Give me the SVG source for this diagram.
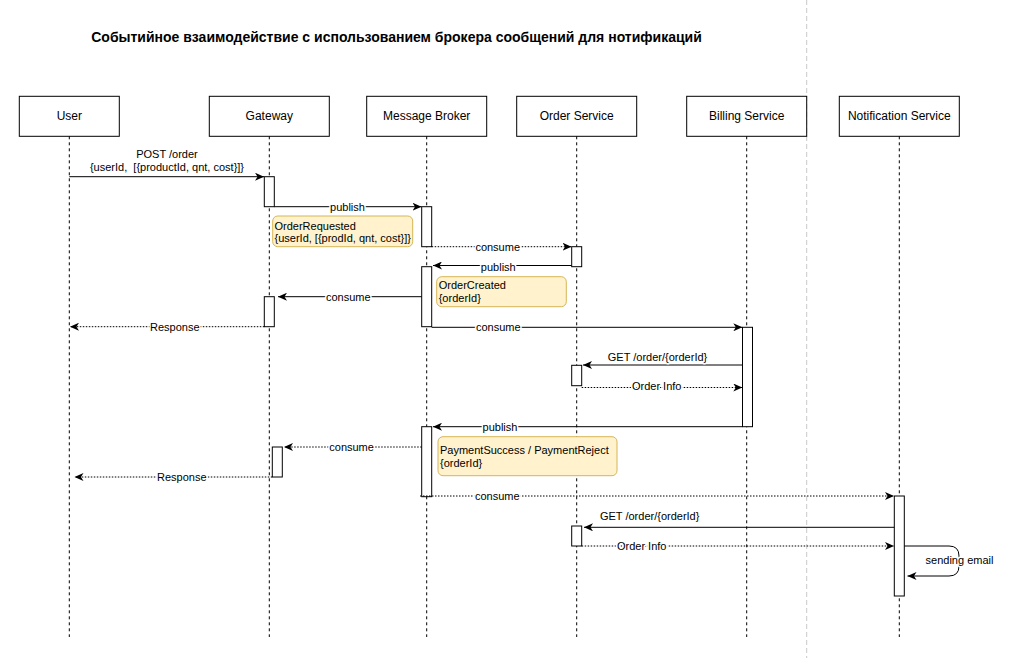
<svg xmlns="http://www.w3.org/2000/svg" width="1010" height="658" viewBox="0 0 1010 658">
<style>
text{font-family:"Liberation Sans",Arial,sans-serif;fill:#000}
.title{font-size:14px;font-weight:bold}
.hdr rect{fill:#fff;stroke:#000;stroke-width:1}
.hdr text{font-size:12px;text-anchor:middle;dominant-baseline:central}
.life{stroke:#000;stroke-width:1;stroke-dasharray:3 3;fill:none}
.act{fill:#fff;stroke:#000;stroke-width:1}
.note rect{fill:#fff2cc;stroke:#d6b656;stroke-width:1}
.note text{font-size:11px;dominant-baseline:central}
.e{stroke:#000;stroke-width:1;fill:none;marker-end:url(#arr)}
.d{stroke-dasharray:1.5 1.5}
.lbl{font-size:11px;text-anchor:middle;dominant-baseline:central;paint-order:stroke;stroke:#fff;stroke-width:3px;stroke-linejoin:round;white-space:pre}
.sep{stroke:#c8c8c8;stroke-width:1;stroke-dasharray:5 3;fill:none}
</style>
<defs>
<marker id="arr" markerUnits="userSpaceOnUse" markerWidth="10" markerHeight="8" refX="9" refY="4" orient="auto">
<path d="M0,0 L9,4 L0,8 L2.5,4 Z" fill="#000"/>
</marker>
</defs>
<rect x="0" y="0" width="1010" height="658" fill="#fff"/>
<line class="sep" x1="806.7" y1="0" x2="806.7" y2="658"/>
<text class="title" x="396.5" y="42" text-anchor="middle">Событийное взаимодействие с использованием брокера сообщений для нотификаций</text>

<g id="user" class="hdr">
<rect x="19.3" y="96.3" width="100" height="40"/>
<text x="69.3" y="116.3">User</text>
<line class="life" x1="69.3" y1="136.3" x2="69.3" y2="637"/>
</g>
<g id="gateway" class="hdr">
<rect x="209.3" y="96.3" width="120" height="40"/>
<text x="269.3" y="116.3">Gateway</text>
<line class="life" x1="269.3" y1="136.3" x2="269.3" y2="637"/>
<rect class="act" x="264.3" y="176.7" width="10" height="30"/>
<rect class="act" x="264.3" y="296.7" width="10" height="30"/>
<rect class="act" x="272.3" y="447" width="10" height="30"/>
</g>
<g id="broker" class="hdr">
<rect x="366.7" y="96.3" width="120" height="40"/>
<text x="426.7" y="116.3">Message Broker</text>
<line class="life" x1="426.7" y1="136.3" x2="426.7" y2="637"/>
<rect class="act" x="421.7" y="206.7" width="10" height="40"/>
<rect class="act" x="421.7" y="266.7" width="10" height="60"/>
<rect class="act" x="421.7" y="426.7" width="10" height="70"/>
</g>
<g id="order" class="hdr">
<rect x="516.7" y="96.3" width="120" height="40"/>
<text x="576.7" y="116.3">Order Service</text>
<line class="life" x1="576.7" y1="136.3" x2="576.7" y2="637"/>
<rect class="act" x="571.7" y="246.7" width="10" height="20"/>
<rect class="act" x="571.7" y="365.3" width="10" height="20.4"/>
<rect class="act" x="571.7" y="526" width="10" height="20"/>
</g>
<g id="billing" class="hdr">
<rect x="686.7" y="96.3" width="120" height="40"/>
<text x="746.7" y="116.3">Billing Service</text>
<line class="life" x1="746.7" y1="136.3" x2="746.7" y2="637"/>
<rect class="act" x="742.5" y="327.3" width="10" height="99.4"/>
</g>
<g id="notification" class="hdr">
<rect x="839.3" y="96.3" width="120" height="40"/>
<text x="899.3" y="116.3">Notification Service</text>
<line class="life" x1="899.3" y1="136.3" x2="899.3" y2="637"/>
<rect class="act" x="894.3" y="496" width="10" height="100"/>
</g>

<g id="note-order-requested" class="note">
<rect x="272.7" y="216" width="140" height="30.7" rx="5"/>
<text x="274.5" y="225.5">OrderRequested</text>
<text x="274.5" y="238.2">{userId, [{prodId, qnt, cost}]}</text>
</g>
<g id="note-order-created" class="note">
<rect x="436.7" y="276.7" width="129.6" height="30" rx="5"/>
<text x="438.7" y="285">OrderCreated</text>
<text x="438.7" y="298">{orderId}</text>
</g>
<g id="note-payment" class="note">
<rect x="438" y="436.7" width="179" height="39" rx="5"/>
<text x="440" y="450">PaymentSuccess / PaymentReject</text>
<text x="440" y="463.3">{orderId}</text>
</g>

<g id="connectors">
<path class="e" d="M69.3,176.7 H264"/>
<path class="e" d="M274.3,206.7 H421.5"/>
<path class="e d" d="M431.7,246.7 H571.5"/>
<path class="e" d="M571.7,265.5 H433"/>
<path class="e" d="M421.7,296.7 H278"/>
<path class="e d" d="M264.3,326.7 H70"/>
<path class="e" d="M431.7,327.3 H742.3"/>
<path class="e" d="M742.5,365 H583"/>
<path class="e d" d="M581.7,387.5 H742.3"/>
<path class="e" d="M742.5,426.7 H433"/>
<path class="e d" d="M421.7,447 H284"/>
<path class="e d" d="M272.3,477 H74.5"/>
<path class="e d" d="M420,496 H894"/>
<path class="e" d="M894.3,527.3 H584"/>
<path class="e d" d="M581.7,546 H894"/>
<path class="e" d="M904.3,546 H949 Q959,546 959,556 V566 Q959,576 949,576 H907.5"/>

<text class="lbl" x="167" y="154">POST /order</text>
<text class="lbl" x="167" y="167.3" xml:space="preserve">{userId,  [{productId, qnt, cost}]}</text>
<text class="lbl" x="347.5" y="207">publish</text>
<text class="lbl" x="497.7" y="246.7">consume</text>
<text class="lbl" x="498.3" y="267.3">publish</text>
<text class="lbl" x="348.3" y="296.7">consume</text>
<text class="lbl" x="174.8" y="326.7">Response</text>
<text class="lbl" x="498.3" y="327">consume</text>
<text class="lbl" x="657.5" y="357.3">GET /order/{orderId}</text>
<text class="lbl" x="656.7" y="386.3">Order Info</text>
<text class="lbl" x="500" y="426.7">publish</text>
<text class="lbl" x="351.6" y="446.7">consume</text>
<text class="lbl" x="181.8" y="477.3">Response</text>
<text class="lbl" x="497.3" y="496">consume</text>
<text class="lbl" x="649.7" y="516">GET /order/{orderId}</text>
<text class="lbl" x="641.7" y="546">Order Info</text>
<text class="lbl" x="959.5" y="560.3">sending email</text>
</g>
</svg>
